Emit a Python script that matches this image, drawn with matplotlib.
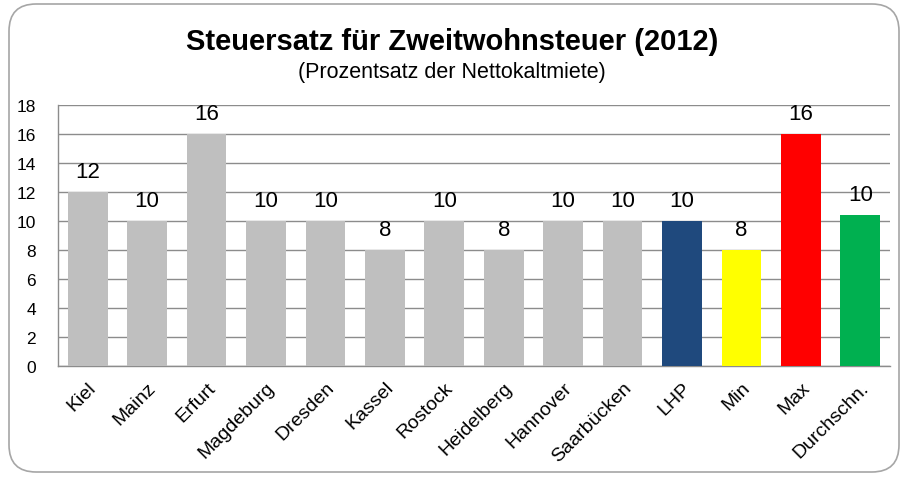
import numpy as np
import matplotlib.pyplot as plt
from matplotlib.patches import FancyBboxPatch

plt.rcParams['font.family'] = ['Liberation Sans', 'DejaVu Sans']

# Daten
staedte = ['Kiel', 'Mainz', 'Erfurt', 'Magdeburg', 'Dresden', 'Kassel', 'Rostock',
           'Heidelberg', 'Hannover', 'Saarbücken', 'LHP', 'Min', 'Max', 'Durchschn.']
werte = [12, 10, 16, 10, 10, 8, 10, 8, 10, 10, 10, 8, 16, 10.4]
farben = ['#bfbfbf'] * 10 + ['#1f497d', '#ffff00', '#ff0000', '#00b050']
yticks = np.arange(0, 19, 2)

fig = plt.figure(figsize=(9.04, 4.81), dpi=100)

# abgerundeter Rahmen
rahmen = FancyBboxPatch((9 / 904, 8 / 481), 890 / 904, 468 / 481,
                        boxstyle='round,pad=0,rounding_size=0.03',
                        transform=fig.transFigure, facecolor='white',
                        edgecolor='#a6a6a6', linewidth=1.2, mutation_aspect=904 / 481,
                        zorder=-1)
fig.patches.append(rahmen)

ax = fig.add_axes([58 / 904, 1 - 367 / 481, 832 / 904, 261 / 481])
ax.set_zorder(2)
ax.set_facecolor('none')
x = np.arange(len(staedte))
bars = ax.bar(x, werte, width=0.67, color=farben, zorder=3)

for xi, w in zip(x, werte):
    ax.text(xi, w + 0.7, f'{w:.0f}', ha='center', va='bottom', fontsize=16, color='black')

ax.set_xlim(-0.5, len(staedte) - 0.5)
ax.set_ylim(0, 18)
ax.set_yticks(yticks)
ax.set_yticklabels([str(t) for t in yticks], fontsize=12.5)
ax.yaxis.grid(True, color='#8c8c8c', linewidth=1.0, zorder=0)
ax.tick_params(axis='y', length=0, pad=16)
ax.tick_params(axis='x', length=0, pad=9)
ax.set_xticks(x)
ax.set_xticklabels(staedte, rotation=45, ha='right', rotation_mode='anchor', fontsize=14)

for s in ['top', 'right']:
    ax.spines[s].set_visible(False)
for s in ['left', 'bottom']:
    ax.spines[s].set_color('#8c8c8c')
    ax.spines[s].set_linewidth(1.0)

fig.text(0.5, 1 - 42 / 481, 'Steuersatz für Zweitwohnsteuer (2012)', ha='center', va='center',
         fontsize=21, fontweight='bold')
fig.text(0.5, 1 - 73 / 481, '(Prozentsatz der Nettokaltmiete)', ha='center', va='center',
         fontsize=15.5)

fig.savefig('out.png', dpi=100)
